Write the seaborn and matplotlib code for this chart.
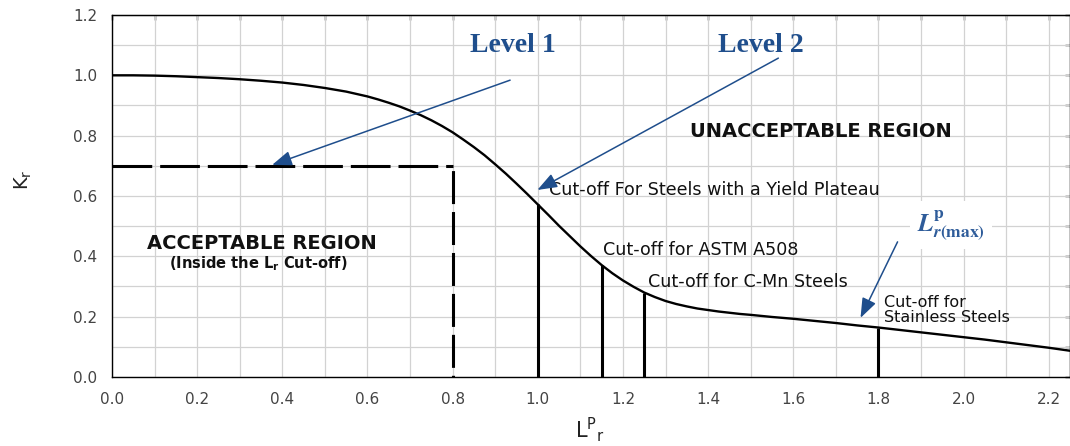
import matplotlib
matplotlib.use('Agg')
import matplotlib.pyplot as plt
import seaborn as sns
import numpy as np
import pandas as pd

# FAD curve (Lr, Kr)
lr_curve = [0.000, 0.050, 0.100, 0.150, 0.200, 0.250, 0.300, 0.350, 0.400, 0.450,
            0.500, 0.550, 0.575, 0.600, 0.625, 0.650, 0.675, 0.700, 0.725, 0.750,
            0.775, 0.800, 0.825, 0.850, 0.875, 0.900, 0.925, 0.950, 0.975, 1.000,
            1.025, 1.050, 1.075, 1.100, 1.125, 1.150, 1.175, 1.200, 1.225, 1.250,
            1.275, 1.300, 1.325, 1.350, 1.375, 1.400, 1.425, 1.450, 1.475, 1.500,
            1.550, 1.600, 1.650, 1.700, 1.750, 1.800, 1.850, 1.900, 1.950, 2.000,
            2.050, 2.100, 2.150, 2.200, 2.250]
kr_curve = [1.000, 1.000, 0.999, 0.997, 0.994, 0.991, 0.987, 0.982, 0.976, 0.968,
            0.958, 0.946, 0.938, 0.930, 0.920, 0.909, 0.897, 0.883, 0.868, 0.851,
            0.832, 0.811, 0.787, 0.762, 0.735, 0.705, 0.674, 0.641, 0.607, 0.572,
            0.537, 0.501, 0.467, 0.433, 0.401, 0.371, 0.344, 0.320, 0.299, 0.280,
            0.265, 0.252, 0.242, 0.234, 0.227, 0.222, 0.217, 0.213, 0.209, 0.206,
            0.199, 0.193, 0.186, 0.179, 0.171, 0.164, 0.156, 0.148, 0.140, 0.132,
            0.124, 0.115, 0.106, 0.097, 0.087]

# cut-off lines (Lr position, height where they meet the curve)
cutoff_lr = [1.00, 1.15, 1.25, 1.80]
cutoff_kr = [0.572, 0.371, 0.280, 0.164]

# Level 1 box
level1_lr = 0.8
level1_kr = 0.7

x_ticks = [0.0, 0.2, 0.4, 0.6, 0.8, 1.0, 1.2, 1.4, 1.6, 1.8, 2.0, 2.2]
y_ticks = [0.0, 0.2, 0.4, 0.6, 0.8, 1.0, 1.2]

curve = pd.DataFrame({'Lr': lr_curve, 'Kr': kr_curve})

sns.set_style('white')
plt.rcParams['font.family'] = ['DejaVu Sans']

blue = '#1F4E8C'
tick_grey = '#444444'

fig = plt.figure(figsize=(10.7, 4.46), dpi=100)
ax = fig.add_axes([0.1047, 0.1547, 0.8953, 0.8117])

# Main curve
sns.lineplot(data=curve, x='Lr', y='Kr', color='black', lw=1.7, ax=ax,
             sort=False, estimator=None)

# Cut-off lines
ax.vlines(cutoff_lr, 0, cutoff_kr, color='black', lw=2.2, zorder=3)

# Level 1 limits
ax.plot([0, level1_lr], [level1_kr, level1_kr], color='black', lw=2.2,
        linestyle=(0, (13, 2.6)), zorder=3)
ax.plot([level1_lr, level1_lr], [level1_kr, 0], color='black', lw=2.2,
        linestyle=(-1.5, (10.8, 2.6)), zorder=3)

# Axes setup
ax.set_xlim(0, 2.25)
ax.set_ylim(0, 1.2)
ax.set_xticks(x_ticks)
ax.set_yticks(y_ticks)
ax.set_xticks(np.arange(0.1, 2.25, 0.2), minor=True)
ax.set_yticks(np.arange(0.1, 1.2, 0.2), minor=True)
ax.set_xticklabels([f'{v:.1f}' for v in x_ticks])
ax.set_yticklabels([f'{v:.1f}' for v in y_ticks])
ax.tick_params(which='major', direction='out', length=5.5, width=1,
               color='black', labelsize=11, labelcolor=tick_grey, pad=5)
ax.tick_params(which='minor', direction='out', length=3, width=1, color='black')
ax.grid(which='both', color='#d2d2d2', lw=0.9)
ax.set_axisbelow(True)
for side in ['left', 'bottom', 'top', 'right']:
    ax.spines[side].set_visible(True)
    ax.spines[side].set_color('black')
    ax.spines[side].set_linewidth(1.0)

top = ax.secondary_xaxis('top')
top.set_xticks(np.arange(0.0, 2.25, 0.1))
top.tick_params(direction='in', length=3.5, width=1, labeltop=False, color='black')
right = ax.secondary_yaxis('right')
right.set_yticks(np.arange(0.0, 1.21, 0.1))
right.tick_params(direction='in', length=3.5, width=1, labelright=False, color='black')

ax.set_xlabel(r'$\mathregular{L^{P}{}_{r}}$', fontsize=15, color='#222222')
ax.set_ylabel(r'$\mathregular{K_r}$', fontsize=14, color='#222222')
ax.xaxis.set_label_coords(0.499, -0.105)
ax.yaxis.set_label_coords(-0.081, 0.544)

# Region labels
ax.text(1.664, 0.815, 'UNACCEPTABLE REGION', fontsize=14, fontweight='bold',
        ha='center', va='center', color='#111111')
ax.text(0.352, 0.444, 'ACCEPTABLE REGION', fontsize=14, fontweight='bold',
        ha='center', va='center', color='#111111')
ax.text(0.343, 0.375, r'(Inside the L$_\mathregular{r}$ Cut-off)', fontsize=10.5,
        fontweight='bold', ha='center', va='center', color='#111111')

# Cut-off labels
ax.text(1.027, 0.62, 'Cut-off For Steels with a Yield Plateau', fontsize=12.6,
        ha='left', va='center', color='#111111')
ax.text(1.152, 0.421, 'Cut-off for ASTM A508', fontsize=12.6,
        ha='left', va='center', color='#111111')
ax.text(1.26, 0.315, 'Cut-off for C-Mn Steels', fontsize=12.6,
        ha='left', va='center', color='#111111')
ax.text(1.814, 0.222, 'Cut-off for\nStainless Steels', fontsize=11.5,
        ha='left', va='center', linespacing=1.0, color='#111111')

# Level labels and arrows
arrow_kw = dict(arrowstyle='-|>,head_length=0.8,head_width=0.3',
                mutation_scale=15, lw=1.1, color=blue, shrinkA=0, shrinkB=0)
ax.text(0.942, 1.10, 'Level 1', fontsize=20, fontweight='bold',
        family='Liberation Serif', color=blue, ha='center', va='center')
ax.annotate('', xy=(0.376, 0.703), xytext=(0.935, 0.984), arrowprops=arrow_kw)
ax.text(1.525, 1.10, 'Level 2', fontsize=20, fontweight='bold',
        family='Liberation Serif', color=blue, ha='center', va='center')
ax.annotate('', xy=(0.999, 0.62), xytext=(1.565, 1.057), arrowprops=arrow_kw)

ax.text(1.97, 0.504, r'$\boldsymbol{L}^{\mathbf{p}}_{\boldsymbol{r}\mathbf{(max)}}$',
        fontsize=18, color='#2E5C9A', math_fontfamily='stix',
        ha='center', va='center',
        bbox=dict(facecolor='white', edgecolor='none', pad=5))
ax.annotate('', xy=(1.758, 0.196), xytext=(1.845, 0.448), arrowprops=arrow_kw)

fig.savefig('out.png', dpi=100)
